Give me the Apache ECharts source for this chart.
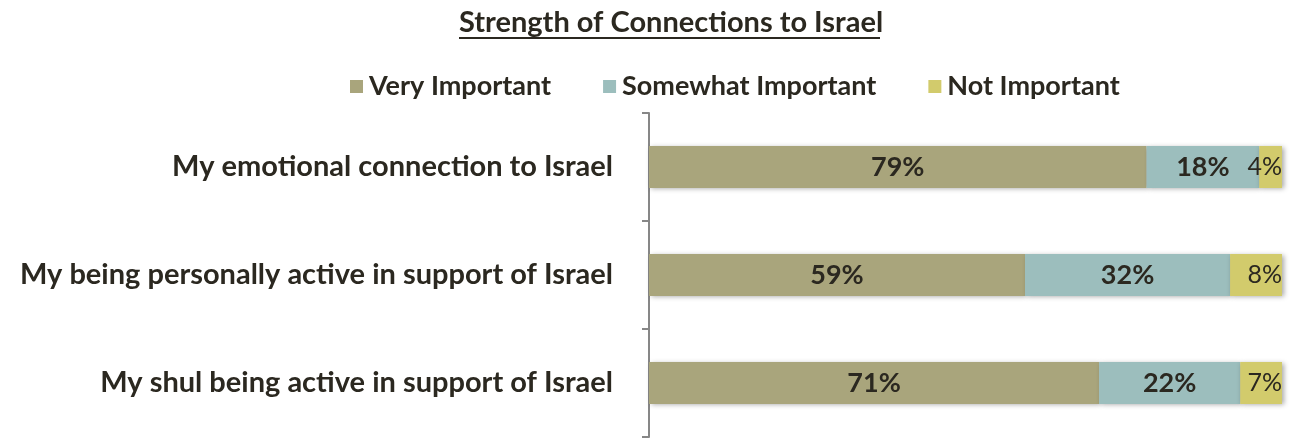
<!DOCTYPE html>
<html>
<head>
<meta charset="utf-8">
<script src="https://cdn.jsdelivr.net/npm/echarts@6/dist/echarts.min.js"></script>
<style>html,body{margin:0;padding:0;background:#fff}#c{width:1295px;height:440px}</style>
</head>
<body>
<div id="c"></div>
<script>
const categories = [
  'My emotional connection to Israel',
  'My being personally active in support of Israel',
  'My shul being active in support of Israel'
];
const seriesNames = ['Very Important', 'Somewhat Important', 'Not Important'];
const veryImportant = [78.6, 59.4, 71.1];
const somewhatImportant = [17.8, 32.4, 22.3];
const notImportant = [3.6, 8.2, 6.6];
const colors = ['#A9A57C', '#9CBEBD', '#D2CB6C'];
const titleText = 'Strength of Connections to Israel';

const FONT = 'Lato';
const TXT = '#2B2820';
const chart = echarts.init(document.getElementById('c'));
const fmt = p => Math.round(p.value) + '%';
const shadow = {shadowBlur: 5, shadowOffsetX: 2, shadowOffsetY: 1, shadowColor: 'rgba(0,0,0,0.35)'};
function mk(name, data, color, small) {
  return {
    name, type: 'bar', stack: 'all', data, barWidth: '39%',
    itemStyle: Object.assign({color}, shadow),
    label: small ? {
      show: true, position: 'insideRight', distance: 0, formatter: fmt,
      fontFamily: FONT, fontSize: 25, fontWeight: 'normal', color: TXT
    } : {
      show: true, position: 'inside', formatter: fmt,
      fontFamily: FONT, fontSize: 27, fontWeight: 'bold', color: TXT
    }
  };
}
chart.setOption({
  backgroundColor: '#fff',
  animation: false,
  title: {
    text: titleText, left: 459, top: 8, padding: 0,
    textStyle: {fontFamily: FONT, fontSize: 29, fontWeight: 'bold', color: TXT}
  },
  graphic: [{
    type: 'line', shape: {x1: 459, y1: 38, x2: 880, y2: 38},
    style: {stroke: TXT, lineWidth: 2}
  }],
  legend: {
    data: seriesNames, top: 68, left: 345, itemGap: 52,
    itemWidth: 13, itemHeight: 13, icon: 'rect',
    textStyle: {fontFamily: FONT, fontSize: 27, fontWeight: 'bold', color: TXT, padding: [0, 0, 0, 1]}
  },
  grid: {left: 649, right: 13, top: 113, bottom: 3, containLabel: false},
  xAxis: {type: 'value', min: 0, max: 100, show: false},
  yAxis: {
    type: 'category', data: categories, inverse: true,
    axisLine: {show: true, lineStyle: {color: '#878787', width: 2}},
    axisTick: {show: true, length: 7, lineStyle: {color: '#878787', width: 2}},
    axisLabel: {fontFamily: FONT, fontSize: 29, fontWeight: 'bold', color: TXT, margin: 36}
  },
  series: [
    mk(seriesNames[0], veryImportant, colors[0], false),
    mk(seriesNames[1], somewhatImportant, colors[1], false),
    mk(seriesNames[2], notImportant, colors[2], true)
  ]
});
</script>
</body>
</html>
